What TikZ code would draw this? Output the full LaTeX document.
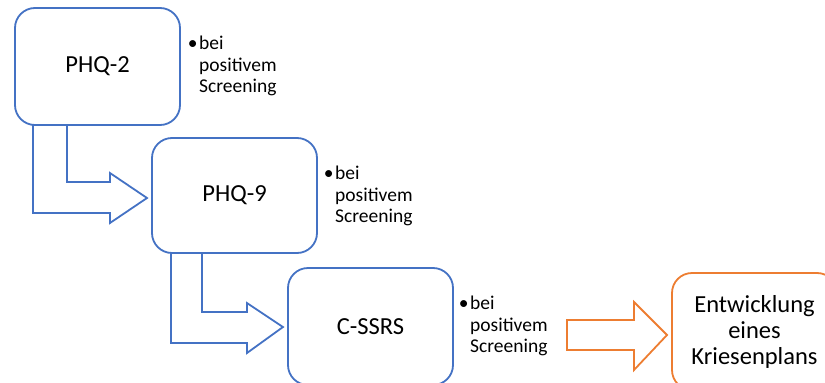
\documentclass[tikz,border=0pt]{standalone}
\usepackage{fontspec}
\setmainfont{Carlito}
\usetikzlibrary{calc}
\definecolor{bblue}{HTML}{4472C4}
\definecolor{borange}{HTML}{ED7D31}
\tikzset{
  stepbox/.style={draw=#1, line width=1.8pt, fill=white, rounded corners=20pt,
    minimum width=165pt, minimum height=117pt, inner sep=0pt, align=center,
    font=\fontsize{24.5}{26}\selectfont},
  blockarrow/.style={draw=#1, line width=1.8pt, line join=miter},
  bullettext/.style={anchor=north west, inner sep=0pt, align=left,
    font=\fontsize{19.5}{21.5}\selectfont}
}
\begin{document}
\begin{tikzpicture}[x=1pt,y=-1pt]
\useasboundingbox (0,0) rectangle (825,383);
\clip (0,0) rectangle (825,383);
% bent arrows (drawn first, boxes cover their tops)
\draw[blockarrow=bblue] (33,125) -- (33,213) -- (110,213) -- (110,223) -- (147,198) -- (110,173) -- (110,182) -- (67,182) -- (67,125);
\draw[blockarrow=bblue] (171,253) -- (171,343) -- (247,343) -- (247,353) -- (283,327) -- (247,303) -- (247,312) -- (202,312) -- (202,253);
\draw[blockarrow=borange] (567,320) -- (634,320) -- (634,302) -- (667,335) -- (634,370) -- (634,350) -- (567,350) -- cycle;
% boxes
\node[stepbox=bblue, minimum height=117pt] (b1) at (97.5,66.5) {PHQ-2};
\node[stepbox=bblue, minimum height=115pt] (b2) at (234.5,195.5) {PHQ-9};
\node[stepbox=bblue] (b3) at (370.5,326.5) {C-SSRS};
\node[stepbox=borange] (b4) at (754.5,331.5) {Entwicklung\\eines\\Kriesenplans};
% bullet labels
\node[bullettext] (t1) at (199,36) {\llap{•\hspace{1.5pt}}bei\\positivem\\Screening};
\node[bullettext] (t2) at (335,166) {\llap{•\hspace{1.5pt}}bei\\positivem\\Screening};
\node[bullettext] (t3) at (470,296) {\llap{•\hspace{1.5pt}}bei\\positivem\\Screening};
\end{tikzpicture}
\end{document}
